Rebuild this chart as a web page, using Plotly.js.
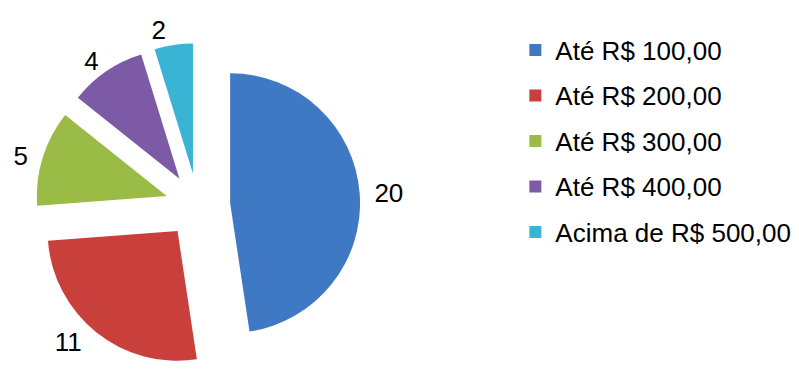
<!DOCTYPE html>
<html>
<head>
<meta charset="utf-8">
<script src="https://cdn.plot.ly/plotly-3.0.1.min.js"></script>
<style>html,body{margin:0;padding:0;background:#fff;}#chart{width:799px;height:372px;}</style>
</head>
<body>
<div id="chart"></div>
<script>
const categories = ["Até R$ 100,00", "Até R$ 200,00", "Até R$ 300,00", "Até R$ 400,00", "Acima de R$ 500,00"];
const values = [20, 11, 5, 4, 2];
const colors = ["#3f79c3", "#c93f3c", "#9bbb47", "#7c5aa6", "#3ab4d4"];
// label padding (non-breaking spaces) so labels sit a little further from the slices
const labelTemplates = ["\u00a0%{value}", "%{value}\u00a0", "%{value}\u00a0", "%{value}", "%{value}"];

const legendLabels = categories.map(c => '<span style="font-size:26px;baseline-shift:3.5px">' + c + '</span>');

const trace = {
  type: 'pie',
  labels: legendLabels,
  values: values,
  sort: false,
  direction: 'clockwise',
  rotation: 0,
  pull: [0.25, 0.25, 0.25, 0.25, 0.25],
  marker: {colors: colors, line: {width: 0}},
  texttemplate: labelTemplates,
  textposition: 'outside',
  outsidetextfont: {family: 'Liberation Sans, Arial, sans-serif', size: 26, color: '#000'},
  domain: {x: [0.044, 0.451], y: [0.011, 0.884]},
  hoverinfo: 'label+value'
};

const layout = {
  width: 799, height: 372,
  margin: {l: 0, r: 0, t: 0, b: 0},
  paper_bgcolor: '#fff',
  font: {family: 'Liberation Sans, Arial, sans-serif', color: '#000'},
  showlegend: true,
  legend: {
    x: 0.645, y: 0.94, xanchor: 'left', yanchor: 'top',
    font: {size: 32.7, color: '#000'},
    bgcolor: 'rgba(0,0,0,0)'
  }
};

Plotly.newPlot('chart', [trace], layout, {displayModeBar: false, staticPlot: true});
</script>
</body>
</html>
